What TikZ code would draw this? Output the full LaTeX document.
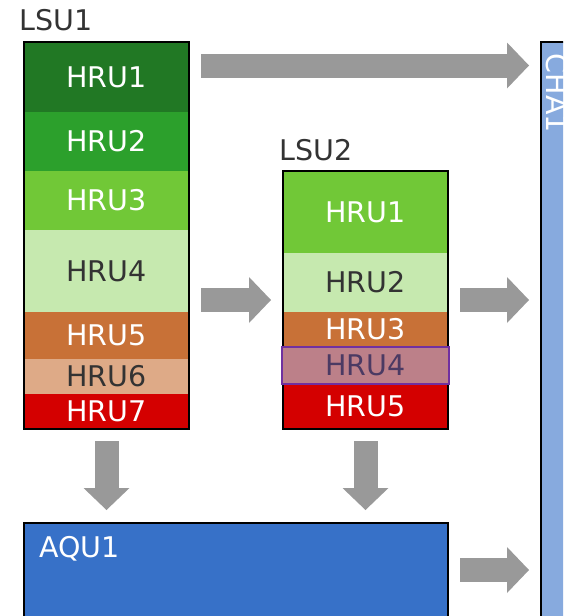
\documentclass[tikz,border=0pt]{standalone}
\usepackage{fontspec}
\setmainfont{DejaVu Sans}
\usetikzlibrary{arrows.meta}

\definecolor{hruA}{RGB}{33,120,36}
\definecolor{hruB}{RGB}{44,160,44}
\definecolor{hruC}{RGB}{113,200,55}
\definecolor{hruD}{RGB}{198,233,175}
\definecolor{hruE}{RGB}{200,113,55}
\definecolor{hruF}{RGB}{222,170,135}
\definecolor{hruG}{RGB}{212,0,0}
\definecolor{hruMauve}{RGB}{188,128,137}
\definecolor{mauveText}{RGB}{75,58,99}
\definecolor{mauveEdge}{RGB}{112,48,160}
\definecolor{aquBlue}{RGB}{55,113,200}
\definecolor{chaBlue}{RGB}{135,170,222}
\definecolor{flowGray}{RGB}{153,153,153}
\definecolor{darkText}{RGB}{51,51,51}

\begin{document}
\begin{tikzpicture}[x=1pt,y=-1pt,
  lbl/.style={inner sep=0pt, font=\fontsize{28.5pt}{34pt}\selectfont},
  cell/.style={lbl, minimum width=165pt, text=white},
  light/.style={text=darkText},
  frame/.style={draw=black, line width=2.4pt, inner sep=0pt, outer sep=0pt},
  flow/.style={draw=flowGray, line width=24pt,
    -{Triangle[length=22pt 0 0, width=46pt 0 0, line width=0pt 0 0]}}]
\clip (0,0) rectangle (563,616);

% LSU1 column of HRUs
\node[cell, fill=hruA, minimum height=70pt] (a1) at (106.5,77) {HRU1};
\node[cell, fill=hruB, minimum height=59pt] (a2) at (106.5,141.5) {HRU2};
\node[cell, fill=hruC, minimum height=59pt] (a3) at (106.5,200.5) {HRU3};
\node[cell, light, fill=hruD, minimum height=82pt] (a4) at (106.5,271) {HRU4};
\node[cell, fill=hruE, minimum height=47pt] (a5) at (106.5,335.5) {HRU5};
\node[cell, light, fill=hruF, minimum height=35pt] (a6) at (106.5,376.5) {HRU6};
\node[cell, fill=hruG, minimum height=35pt] (a7) at (106.5,411.5) {HRU7};
\node[frame, minimum width=165pt, minimum height=387pt] (lsu1) at (106.5,235.5) {};
\node[lbl, text=darkText, anchor=base west] (lsu1lbl) at (19.5,30.5) {LSU1};

% LSU2 column of HRUs
\node[cell, fill=hruC, minimum height=82pt] (b1) at (365.5,212) {HRU1};
\node[cell, light, fill=hruD, minimum height=59pt] (b2) at (365.5,282.5) {HRU2};
\node[cell, fill=hruE, minimum height=34pt] (b3) at (365.5,329) {HRU3};
\node[cell, fill=hruG, minimum height=45pt] (b5) at (365.5,406.5) {HRU5};
\node[frame, minimum width=165pt, minimum height=258pt] (lsu2) at (365.5,300) {};
\node[cell, text=mauveText, fill=hruMauve, draw=mauveEdge, line width=2pt,
  minimum width=167pt, minimum height=37pt] (b4) at (365.5,365) {HRU4};
\node[lbl, text=darkText, anchor=base west] (lsu2lbl) at (279,160) {LSU2};

% aquifer and channel
\node[frame, fill=aquBlue, minimum width=424pt, minimum height=117pt] (aqu) at (236,581.5) {};
\node[lbl, text=white, anchor=base west] (aqulbl) at (39,557) {AQU1};
\node[frame, fill=chaBlue, minimum width=59pt, minimum height=598pt] (cha) at (570.5,341) {};
\node[lbl, text=white, rotate=-90, anchor=base west] (chalbl) at (546,53.5) {CHA1};

% flows
\coordinate (aqout) at ([yshift=-47pt]aqu.north east);
\coordinate (chain) at (aqout -| cha.west);
\draw[flow] ([shift={(12pt,-23.5pt)}]lsu1.north east) -- ([shift={(-12pt,-23.5pt)}]cha.north west);
\draw[flow] ([xshift=12pt]lsu1.east |- lsu2.west) -- ([xshift=-12pt]lsu2.west);
\coordinate (chamid) at (lsu2.east -| cha.west);
\draw[flow] ([xshift=12pt]lsu2.east) -- ([xshift=-12pt]chamid);
\coordinate (aquA) at (lsu1.south |- aqu.north);
\coordinate (aquB) at (lsu2.south |- aqu.north);
\draw[flow] ([yshift=-12pt]lsu1.south) -- ([yshift=13pt]aquA);
\draw[flow] ([yshift=-12pt]lsu2.south) -- ([yshift=13pt]aquB);
\draw[flow] ([xshift=12pt]aqout) -- ([xshift=-12pt]chain);
\end{tikzpicture}
\end{document}
